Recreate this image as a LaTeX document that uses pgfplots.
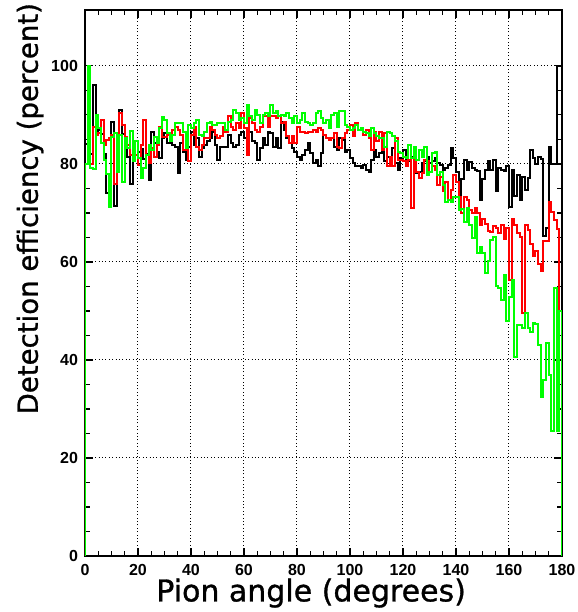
\documentclass[border=0pt]{standalone}
\usepackage{fontspec}
\usepackage{pgfplots}
\usepackage{pgfplotstable}
\pgfplotsset{compat=1.18}
\newfontfamily\labfont[FakeBold=1]{DejaVu Sans}
\newfontfamily\tickfont{Liberation Sans}

% deg = lower bin edge, b = black, r = red, g = green (percent)
\pgfplotstableread{
deg b r g
0 0 0 0
0 84 80 80
1 86 82 100
2 82 80 79.2
3 96 87.6 79
4 86 85.9 90
5 87 86.3 87.3
6 86 89.0 84.2
7 82 83.9 80.8
8 74 84.9 78
9 74 85.2 71.3
10 88.6 85.9 85.5
11 71.4 76 86.3
12 80 84 78.4
13 91 90.3 85.9
14 86 87.9 76.4
15 84 85.5 85.2
16 81.5 83.9 83.2
17 76 81.8 86.7
18 83 83.2 80.5
19 84.6 81.8 84.6
20 82.5 79.8 81.2
21 83 83.9 77.1
22 81 89.0 79.1
23 82 81.8 81.8
24 76.7 80.1 83.9
25 86.6 83.2 82.9
26 84.2 81.5 85.5
27 82.5 83.9 84.2
28 81.2 87.6 87.3
29 85.3 85.5 89.5
30 86.3 85.5 89
31 84.2 85.9 86.3
32 84.2 85.5 84.6
33 83.8 86.9 85.9
34 83.5 87.6 88.3
35 78.1 86.9 88.3
36 84.2 85.9 88.3
37 82.5 82.9 86.6
38 80.8 84.2 83.2
39 83.5 80.5 87.9
40 86.6 85.9 87.3
41 83.9 87.6 88.3
42 85.2 83.5 89.0
43 81.5 82.9 85.9
44 83.2 83.9 85.6
45 83.9 85.2 86.6
46 84.6 85.2 88.3
47 85.2 87.6 88.6
48 86.6 86.9 87.9
49 83.9 85.9 87.9
50 80.8 85.2 88.3
51 83.5 85.6 88.3
52 83.5 87.6 88.3
53 83.5 86.6 86.9
54 85.9 89.7 88.6
55 84.2 87.6 89.0
56 83.5 86.9 91.0
57 83.9 88.3 90.3
58 85.9 87.3 89.0
59 86.6 90.3 89.3
60 85.2 87.3 88.3
61 85.2 81.8 92.0
62 86.6 89.3 89.7
63 84.6 88.3 89.0
64 84.2 86.9 91.0
65 80.8 86.6 90.0
66 83.2 87.6 88.3
67 85.2 90.0 90.0
68 83.9 89.7 90.3
69 86.6 87.6 89.7
70 86.3 89.7 92.0
71 83.5 89.7 90.3
72 85.2 89.3 90.7
73 83.2 89.7 89.7
74 88.6 88.3 90.0
75 86.9 88.6 89.7
76 85.2 85.6 90.3
77 84.2 84.2 89.3
78 83.2 85.6 88.3
79 82.5 84.2 89.7
80 81.5 87.6 88.3
81 80.8 86.6 89.0
82 81.8 86.6 90.3
83 82.9 86.3 88.6
84 84.2 86.6 88.3
85 82.2 86.6 87.9
86 80.1 86.9 88.3
87 80.8 86.6 90.3
88 79.5 87.3 90.7
89 82.2 86.9 89.3
90 85.9 85.9 88.3
91 85.2 85.2 89.0
92 84.9 84.9 87.3
93 85.2 85.2 90.0
94 83.5 86.3 90.3
95 82.9 83.5 87.6
96 85.2 83.2 90.7
97 84.9 85.2 90.7
98 82.5 86.3 88.0
99 82.9 86.9 87.6
100 81.2 87.9 86.9
101 80.1 85.6 87.3
102 79.5 88.3 88.0
103 79.5 86.9 86.9
104 79.1 87.3 87.3
105 79.8 85.9 86.6
106 78.8 86.9 86.3
107 78.4 85.2 85.6
108 80.8 82.9 87.3
109 82.9 86.6 86.3
110 81.5 84.6 85.6
111 82.2 86.6 85.2
112 84.9 82.9 85.2
113 80.5 86.3 83.5
114 81.5 79.5 86.6
115 79.5 81.5 86.3
116 83.2 79.5 85.6
117 80.1 85.2 84.6
118 78.8 80.8 82.5
119 81.2 80.8 82.2
120 82.9 80.5 81.5
121 80.5 79.5 81.2
122 80.5 80.8 83.9
123 81.5 71.0 81.2
124 78.4 80.8 83.5
125 78.1 78.4 80.8
126 78.4 77.1 82.9
127 80.1 78.1 81.5
128 80.5 80.8 83.5
129 81.5 80.5 77.8
130 80.1 78.4 78.4
131 80.5 79.5 82.2
132 81.2 78.8 82.5
133 80.1 75.7 77.8
134 79.8 77.4 78.4
135 78.8 74.4 75.7
136 79.1 76.4 72.3
137 79.8 72.7 72.7
138 83.2 74.7 72.3
139 81.2 77.8 73.3
140 78.4 76.4 73.3
141 73.3 73.3 70.6
142 77 70.0 70.9
143 80.8 73.3 68.2
144 78.8 72.7 71.0
145 80.3 70.6 67.6
146 79.1 70.0 64.8
147 78.8 71.0 69.2
148 78.5 70 61.8
149 72.7 67.6 63.1
150 76.9 68.8 61.8
151 78.8 67.8 57.7
152 80.5 66.4 60.1
153 78.8 66.2 64.5
154 80.8 67.4 65
155 74.4 66.9 55
156 79.1 66 54.6
157 78.8 67.5 52.2
158 78.5 64.7 57.3
159 79.5 67 48
160 71.3 56.3 52.9
161 78.8 68.8 56.3
162 73.4 67.6 40.7
163 77.7 66 47.1
164 72.7 65 47.1
165 77.4 49.6 46.5
166 74.7 67.6 49.5
167 77.1 66.5 46.6
168 82.9 63.7 45.8
169 81.2 61.3 47.5
170 79.9 62.2 47.3
171 81.5 59.6 43
172 81 58.1 32.4
173 65.2 64.2 36
174 67 64.2 43.5
175 83.5 72.3 37
176 80 70.1 25.5
177 80 68.6 54.6
178 100 66.8 25.5
179 100 50 50
180 100 50 50
180 0 0 0
}\hist

\begin{document}
\begin{tikzpicture}
\begin{axis}[
    scale only axis, width=238.5pt, height=273pt,
    xmin=0, xmax=180, ymin=0, ymax=111.4,
    xtick={0,20,...,180}, ytick={0,20,...,100},
    minor x tick num=3, minor y tick num=3,
    tick align=inside, tick pos=both,
    major tick length=4pt, minor tick length=2.3pt,
    every tick/.style={black, line width=0.6pt},
    axis line style={line width=0.8pt},
    grid=major, grid style={black, line width=0.5pt, dash pattern=on 0.5pt off 1.2pt},
    /pgf/number format/assume math mode=true,
    tick label style={font=\tickfont\bfseries\fontsize{8}{9}\selectfont},
    xticklabel style={yshift=-0.5pt},
    xlabel={Pion angle (degrees)},
    ylabel={Detection efficiency (percent)},
    xlabel style={font=\labfont\fontsize{15}{17}\selectfont,
        at={(axis description cs:0.474,-0.068)}, anchor=center},
    ylabel style={font=\labfont\fontsize{13.8}{16}\selectfont,
        at={(axis description cs:-0.115,0.636)}, anchor=center},
    every axis plot/.append style={line width=1pt, const plot mark left, no marks},
]
\addplot[black] table[x=deg, y=b] {\hist};
\addplot[color={rgb,255:red,255;green,0;blue,0}] table[x=deg, y=r] {\hist};
\addplot[color={rgb,255:red,0;green,255;blue,0}] table[x=deg, y=g] {\hist};
\end{axis}
\pgfresetboundingbox
\path[use as bounding box] ([shift={(-42.5pt,-28pt)}]current axis.south west)
    rectangle ([shift={(8pt,5pt)}]current axis.north east);
\end{tikzpicture}
\end{document}
